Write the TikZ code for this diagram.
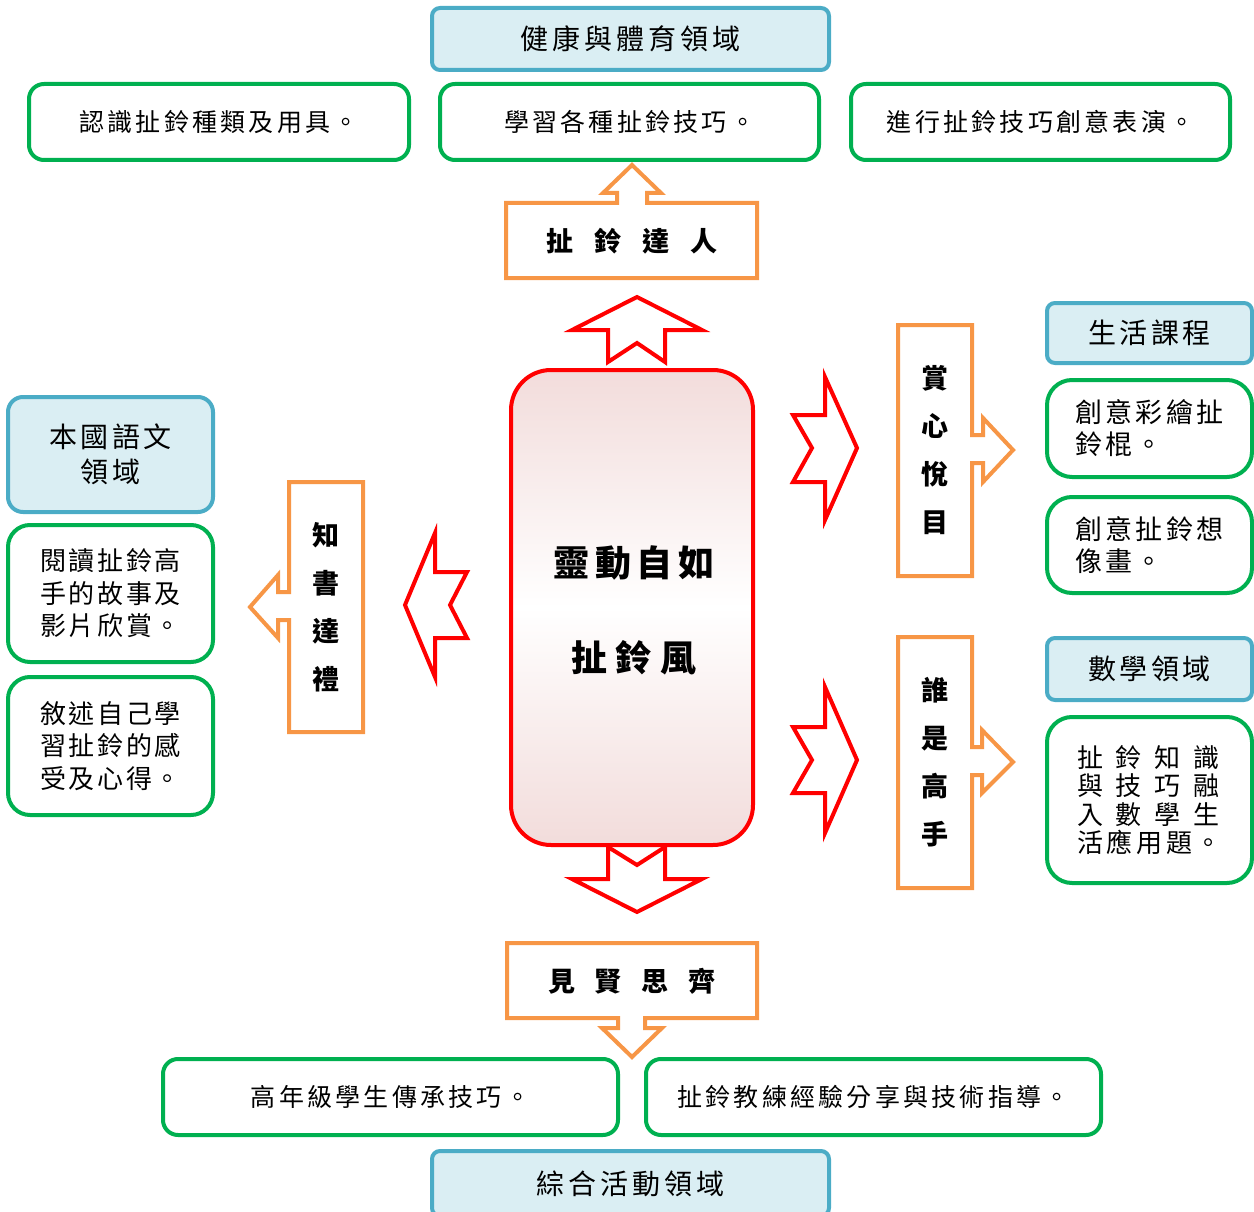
\documentclass[tikz,border=0pt]{standalone}
\usepackage{fontspec}
\setmainfont{Noto Sans CJK TC}
\usetikzlibrary{shadings}
\definecolor{grn}{HTML}{00B050}
\definecolor{bluB}{HTML}{4BACC6}
\definecolor{bluF}{HTML}{DAEEF3}
\definecolor{org}{HTML}{F79646}
\definecolor{pk}{HTML}{F2DCDB}
\definecolor{rd}{HTML}{FF0000}
\begin{document}
\begin{tikzpicture}[x=1pt,y=-1pt,
  bbox/.style={draw=bluB, fill=bluF, line width=4pt, rounded corners=8pt, inner sep=0pt},
  gbox/.style={draw=grn, fill=white, line width=4pt, rounded corners=15pt, inner sep=0pt},
  ocall/.style={draw=org, fill=white, line width=4pt},
  rarrow/.style={draw=rd, fill=white, line width=4pt},
  ftA/.style={font=\fontsize{28}{35}\selectfont\addfontfeature{LetterSpace=14}},
  ftB/.style={font=\fontsize{25}{30}\selectfont\addfontfeature{LetterSpace=13}},
  ftC/.style={font=\fontsize{28}{35}\selectfont\addfontfeature{LetterSpace=12}},
  ftD/.style={font=\fontsize{27}{32}\selectfont\addfontfeature{LetterSpace=12}},
  ftL/.style={font=\fontsize{26}{32.5}\selectfont\addfontfeature{LetterSpace=10}},
  ftE/.style={font=\fontsize{26}{28.5}\selectfont},
  ftO/.style={font=\fontsize{27}{48}\selectfont\bfseries, inner sep=0pt},
  ftM/.style={font=\fontsize{36}{95}\selectfont\bfseries, inner sep=0pt}
]
\useasboundingbox (0,0) rectangle (1254,1212);

% ---------- top ----------
\node[bbox, ftA, minimum width=397pt, minimum height=62pt] (btop) at (630.5,39) {健康與體育領域};
\node[gbox, ftB, minimum width=380pt, minimum height=76pt] (g1) at (219,122) {認識扯鈴種類及用具。};
\node[gbox, ftB, minimum width=379pt, minimum height=76pt] (g2) at (629.5,122) {學習各種扯鈴技巧。};
\node[gbox, ftB, minimum width=379pt, minimum height=76pt] (g3) at (1040.5,122) {進行扯鈴技巧創意表演。};

% orange callout up
\draw[ocall] (506,203) -- (617,203) -- (617,193) -- (603,193) -- (632,165) -- (661,193)
  -- (647,193) -- (647,203) -- (757,203) -- (757,278) -- (506,278) -- cycle;
\node[ftO] (otop) at (632,241) {\spaceskip=21pt 扯 鈴 達 人};

% red up arrow
\draw[rarrow] (637,297) -- (702,330) -- (665,330) -- (665,362) -- (637,343) -- (608,362)
  -- (608,330) -- (572,330) -- cycle;

% ---------- centre ----------
\node[draw=rd, line width=4pt, rounded corners=40pt, top color=pk, bottom color=pk, middle color=white,
  minimum width=242pt, minimum height=475pt] (ctr) at (632,607.5) {};
\node[ftM, align=center] (ctrtext) at (634,610)
  {{\addfontfeature{LetterSpace=15}靈動自如}\\{\addfontfeature{LetterSpace=24}扯鈴風}};

% red down arrow
\draw[rarrow] (608,847) -- (637,865) -- (665,847) -- (665,879) -- (702,879) -- (637,912)
  -- (572,879) -- (608,879) -- cycle;

% ---------- bottom ----------
\draw[ocall] (507,943) -- (757,943) -- (757,1018) -- (645,1018) -- (645,1028) -- (662,1028)
  -- (632,1057) -- (602,1028) -- (618,1028) -- (618,1018) -- (507,1018) -- cycle;
\node[ftO] (obot) at (632,981) {\spaceskip=20pt 見 賢 思 齊};
\node[gbox, ftB, minimum width=455pt, minimum height=76pt] (g9) at (390.5,1097) {高年級學生傳承技巧。};
\node[gbox, ftB, minimum width=455pt, minimum height=76pt] (g10) at (873.5,1097) {扯鈴教練經驗分享與技術指導。};
\node[bbox, ftA, minimum width=397pt, minimum height=65pt] (bcomp) at (630.5,1183.5) {綜合活動領域};

% ---------- right ----------
\draw[rarrow] (793,415) -- (825,415) -- (825,377) -- (857,448) -- (825,520) -- (825,482)
  -- (793,482) -- (812,448) -- cycle;
\draw[rarrow] (793,727) -- (825,727) -- (825,687) -- (857,760) -- (825,833) -- (825,793)
  -- (793,793) -- (812,760) -- cycle;

\draw[ocall] (898,325) -- (972,325) -- (972,435) -- (983,435) -- (983,418) -- (1013,450)
  -- (983,482) -- (983,463) -- (972,463) -- (972,576) -- (898,576) -- cycle;
\node[ftO, align=center] (or1) at (935,450.5) {賞\\心\\悅\\目};
\draw[ocall] (898,637) -- (972,637) -- (972,747) -- (982,747) -- (982,730) -- (1013,762)
  -- (982,793) -- (982,775) -- (972,775) -- (972,888) -- (898,888) -- cycle;
\node[ftO, align=center] (or2) at (935,762.5) {誰\\是\\高\\手};

\node[bbox, ftC, minimum width=205pt, minimum height=60pt] (blife) at (1149.5,333) {生活課程};
\node[gbox, ftD, rounded corners=25pt, align=left, minimum width=205pt, minimum height=97pt] (g4) at (1149.5,428.5) {創意彩繪扯\\鈴棍。};
\node[gbox, ftD, rounded corners=25pt, align=left, minimum width=205pt, minimum height=96pt] (g5) at (1149.5,545) {創意扯鈴想\\像畫。};
\node[bbox, ftC, minimum width=205pt, minimum height=62pt] (bmath) at (1149.5,669) {數學領域};
\node[gbox, ftE, rounded corners=25pt, align=left, minimum width=205pt, minimum height=166pt] (g6) at (1149.5,800)
  {\makebox[142pt][s]{扯\hfill 鈴\hfill 知\hfill 識}\\
   \makebox[142pt][s]{與\hfill 技\hfill 巧\hfill 融}\\
   \makebox[142pt][s]{入\hfill 數\hfill 學\hfill 生}\\
   {\addfontfeature{LetterSpace=14}活應用題。}};

% ---------- left ----------
\draw[rarrow] (467,572) -- (435,572) -- (435,533) -- (405,605) -- (435,677) -- (435,638)
  -- (467,638) -- (450,605) -- cycle;
\draw[ocall] (289,482) -- (363,482) -- (363,732) -- (289,732) -- (289,620) -- (278,620)
  -- (278,638) -- (250,607) -- (278,575) -- (278,592) -- (289,592) -- cycle;
\node[ftO, align=center] (ol) at (326,607.5) {知\\書\\達\\禮};

\node[bbox, ftC, align=center, rounded corners=15pt, minimum width=205pt, minimum height=115pt] (bchin) at (110.5,454.5) {本國語文\\領域};
\node[gbox, ftL, rounded corners=22pt, align=left, minimum width=205pt, minimum height=137pt] (g7) at (110.5,593.5) {閱讀扯鈴高\\手的故事及\\影片欣賞。};
\node[gbox, ftL, rounded corners=22pt, align=left, minimum width=205pt, minimum height=138pt] (g8) at (110.5,746) {敘述自己學\\習扯鈴的感\\受及心得。};
\end{tikzpicture}
\end{document}
